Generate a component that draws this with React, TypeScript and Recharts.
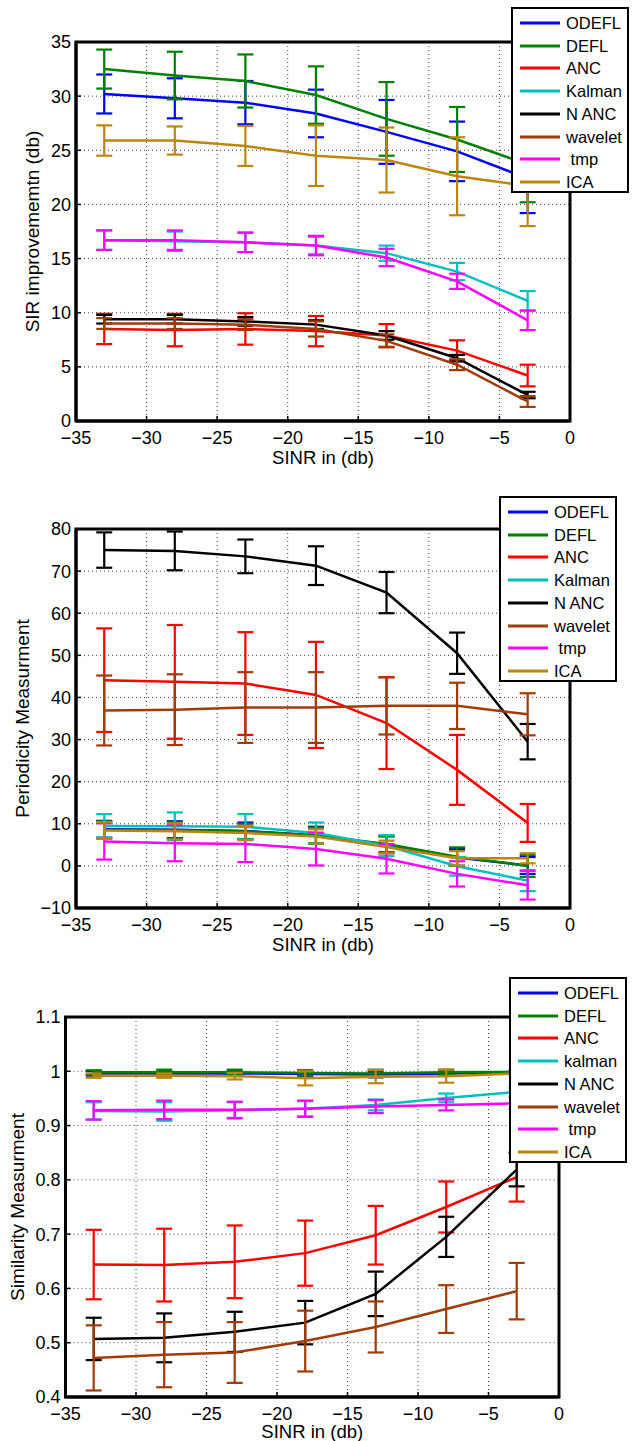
import React from 'react';
import { LineChart, Line, XAxis, YAxis, CartesianGrid, ErrorBar, ReferenceArea } from 'recharts';

const FONT = '"Liberation Sans", Arial, Helvetica, sans-serif';

// SINR values (x) and tick labels
const sinr = [-33, -28, -23, -18, -13, -8, -3];
const xTicks = [-35, -30, -25, -20, -15, -10, -5, 0];

const seriesKeys = ['odefl', 'defl', 'anc', 'kalman', 'nanc', 'wavelet', 'tmp', 'ica'];
const seriesColors = ['#0000FF', '#008000', '#FF0000', '#00BFBF', '#000000', '#A03C0A', '#FF00FF', '#BA8610'];
const legendNames1 = ['ODEFL', 'DEFL', 'ANC', 'Kalman', 'N ANC', 'wavelet', ' tmp', 'ICA'];
const legendNames3 = ['ODEFL', 'DEFL', 'ANC', 'kalman', 'N ANC', 'wavelet', ' tmp', 'ICA'];

// Panel 1: SIR improvement
const sirTicks = [0, 5, 10, 15, 20, 25, 30, 35];
const sirOdefl = [30.2, 29.8, 29.4, 28.4, 26.7, 24.9, 22.4];
const sirOdeflErr = [1.8, 1.85, 2.0, 2.2, 2.95, 2.75, 3.2];
const sirDefl = [32.5, 31.9, 31.4, 30.1, 27.9, 26.0, 23.7];
const sirDeflErr = [1.8, 2.2, 2.45, 2.65, 3.4, 3.0, 3.5];
const sirAnc = [8.5, 8.4, 8.5, 8.3, 7.9, 6.5, 4.2];
const sirAncErr = [1.4, 1.5, 1.45, 1.4, 1.05, 0.95, 1.0];
const sirKalman = [16.7, 16.6, 16.5, 16.2, 15.5, 13.8, 11.1];
const sirKalmanErr = [0.9, 0.9, 0.9, 0.8, 0.7, 0.8, 0.9];
const sirNanc = [9.4, 9.4, 9.2, 8.9, 7.9, 5.8, 2.4];
const sirNancErr = [0.4, 0.4, 0.4, 0.4, 0.4, 0.3, 0.3];
const sirWavelet = [9.0, 9.0, 8.9, 8.5, 7.4, 5.2, 1.8];
const sirWaveletErr = [0.5, 0.5, 0.5, 0.7, 0.6, 0.5, 0.5];
const sirTmp = [16.7, 16.7, 16.5, 16.2, 15.1, 12.9, 9.3];
const sirTmpErr = [0.9, 0.9, 0.9, 0.9, 0.8, 0.7, 0.9];
const sirIca = [25.9, 25.9, 25.4, 24.5, 24.1, 22.6, 21.7];
const sirIcaErr = [1.4, 1.3, 1.85, 2.8, 3.0, 3.6, 3.7];

// Panel 2: Periodicity
const perTicks = [-10, 0, 10, 20, 30, 40, 50, 60, 70, 80];
const perOdefl = [8.7, 8.6, 8.3, 7.3, 5.0, 2.0, 0.1];
const perOdeflErr = [2.0, 2.0, 2.0, 2.0, 2.0, 2.0, 2.0];
const perDefl = [8.6, 8.5, 8.2, 7.2, 5.2, 2.2, 0.0];
const perDeflErr = [2.0, 2.0, 1.8, 1.9, 1.9, 2.2, 2.6];
const perAnc = [44.1, 43.7, 43.3, 40.6, 33.9, 22.8, 10.2];
const perAncErr = [12.3, 13.5, 12.2, 12.6, 10.9, 8.3, 4.5];
const perKalman = [9.5, 9.4, 9.3, 7.8, 4.8, -0.1, -3.5];
const perKalmanErr = [2.8, 3.3, 3.0, 2.5, 2.5, 2.2, 2.5];
const perNanc = [75.0, 74.8, 73.5, 71.3, 64.9, 50.5, 29.5];
const perNancErr = [4.2, 4.6, 4.0, 4.6, 4.9, 4.9, 4.2];
const perWavelet = [36.9, 37.1, 37.6, 37.6, 38.0, 38.0, 36.0];
const perWaveletErr = [8.3, 8.4, 8.4, 8.4, 6.8, 5.5, 5.0];
const perTmp = [5.8, 5.4, 5.2, 4.0, 1.7, -1.9, -4.6];
const perTmpErr = [4.3, 4.3, 4.3, 3.9, 3.5, 3.0, 3.4];
const perIca = [8.4, 8.2, 7.8, 7.0, 4.5, 1.8, 1.8];
const perIcaErr = [2.0, 1.9, 1.7, 1.7, 1.5, 1.7, 1.2];

// Panel 3: Similarity
const simTicks = [0.4, 0.5, 0.6, 0.7, 0.8, 0.9, 1, 1.1];
const simOdefl = [0.996, 0.996, 0.996, 0.995, 0.994, 0.996, 0.998];
const simOdeflErr = [0.004, 0.004, 0.004, 0.004, 0.005, 0.004, 0.003];
const simDefl = [0.998, 0.998, 0.998, 0.997, 0.996, 0.998, 0.999];
const simDeflErr = [0.004, 0.005, 0.005, 0.005, 0.007, 0.005, 0.004];
const simAnc = [0.644, 0.643, 0.649, 0.665, 0.698, 0.750, 0.805];
const simAncErr = [0.064, 0.067, 0.067, 0.06, 0.054, 0.047, 0.045];
const simKalman = [0.927, 0.926, 0.928, 0.931, 0.938, 0.951, 0.962];
const simKalmanErr = [0.016, 0.017, 0.015, 0.014, 0.01, 0.008, 0.008];
const simNanc = [0.507, 0.509, 0.520, 0.537, 0.590, 0.695, 0.819];
const simNancErr = [0.039, 0.045, 0.037, 0.04, 0.041, 0.037, 0.031];
const simWavelet = [0.472, 0.478, 0.482, 0.503, 0.529, 0.562, 0.595];
const simWaveletErr = [0.06, 0.06, 0.056, 0.056, 0.047, 0.044, 0.052];
const simTmp = [0.928, 0.929, 0.929, 0.931, 0.935, 0.938, 0.941];
const simTmpErr = [0.017, 0.017, 0.015, 0.015, 0.012, 0.01, 0.01];
const simIca = [0.992, 0.992, 0.991, 0.987, 0.990, 0.991, 0.996];
const simIcaErr = [0.004, 0.004, 0.006, 0.013, 0.012, 0.012, 0.004];

function buildData(values: number[][], errors: number[][]) {
  return sinr.map((x, i) => {
    const row: Record<string, number> = { x };
    seriesKeys.forEach((k, s) => {
      row[k] = values[s][i];
      row[k + 'Err'] = errors[s][i];
    });
    return row;
  });
}

const data1 = buildData(
  [sirOdefl, sirDefl, sirAnc, sirKalman, sirNanc, sirWavelet, sirTmp, sirIca],
  [sirOdeflErr, sirDeflErr, sirAncErr, sirKalmanErr, sirNancErr, sirWaveletErr, sirTmpErr, sirIcaErr]
);
const data2 = buildData(
  [perOdefl, perDefl, perAnc, perKalman, perNanc, perWavelet, perTmp, perIca],
  [perOdeflErr, perDeflErr, perAncErr, perKalmanErr, perNancErr, perWaveletErr, perTmpErr, perIcaErr]
);
const data3 = buildData(
  [simOdefl, simDefl, simAnc, simKalman, simNanc, simWavelet, simTmp, simIca],
  [simOdeflErr, simDeflErr, simAncErr, simKalmanErr, simNancErr, simWaveletErr, simTmpErr, simIcaErr]
);

const fmtTick = (v: number) => (v < 0 ? '\u2212' + String(Math.abs(v)) : String(v));

function LegendBox({ names, left, top }: { names: string[]; left: number; top: number }) {
  return (
    <div
      style={{
        position: 'absolute',
        left,
        top,
        width: 118,
        height: 186,
        boxSizing: 'border-box',
        border: '2.5px solid #000',
        background: '#fff',
        fontFamily: FONT,
        fontSize: 16.5,
        color: '#000',
        zIndex: 5,
      }}
    >
      {names.map((n, i) => (
        <div
          key={i}
          style={{
            position: 'absolute',
            left: 7,
            top: 3 + i * 22.7,
            height: 22,
            display: 'flex',
            alignItems: 'center',
            whiteSpace: 'pre',
          }}
        >
          <svg width={40} height={4} style={{ display: 'block' }}>
            <line x1={0} y1={2} x2={40} y2={2} stroke={seriesColors[i]} strokeWidth={3} />
          </svg>
          <span style={{ marginLeft: 6, lineHeight: '22px' }}>{n}</span>
        </div>
      ))}
    </div>
  );
}

type PanelProps = {
  data: Record<string, number>[];
  top: number;
  height: number;
  margin: { top: number; right: number; bottom: number; left: number };
  yWidth: number;
  xHeight: number;
  yDomain: [number, number];
  yTicks: number[];
  yLabel: string;
  yLabelX: number;
  xLabelDy: number;
  legendNames: string[];
  legendLeft: number;
  legendTop: number;
};

function Panel(p: PanelProps) {
  const axisLine = { stroke: '#000', strokeWidth: 3 };
  const tickLine = { stroke: '#000', strokeWidth: 1.5 };
  const tickStyle = { fill: '#000', fontSize: 18, fontFamily: FONT };
  return (
    <div style={{ position: 'absolute', left: 0, top: p.top, width: 633, height: p.height }}>
      <LineChart width={633} height={p.height} data={p.data} margin={p.margin}>
        <CartesianGrid stroke="#444" strokeDasharray="1 3" strokeWidth={1} />
        <XAxis
          dataKey="x"
          type="number"
          domain={[-35, 0]}
          ticks={xTicks}
          allowDataOverflow
          height={p.xHeight}
          axisLine={axisLine}
          tickLine={tickLine}
          tickSize={-5}
          tickMargin={15}
          tick={tickStyle}
          tickFormatter={fmtTick}
          interval={0}
          label={{
            content: (lp: any) => {
              const vb = lp.viewBox || { x: 0, y: 0, width: 0, height: 0 };
              return (
                <text
                  x={vb.x + vb.width / 2}
                  y={vb.y + p.xLabelDy}
                  textAnchor="middle"
                  dominantBaseline="central"
                  fontSize={18.5}
                  fontFamily={FONT}
                  fill="#000"
                >
                  SINR in (db)
                </text>
              );
            },
          }}
        />
        <YAxis
          type="number"
          domain={p.yDomain}
          ticks={p.yTicks}
          allowDataOverflow
          width={p.yWidth}
          axisLine={axisLine}
          tickLine={tickLine}
          tickSize={-5}
          tickMargin={10}
          tick={tickStyle}
          tickFormatter={fmtTick}
          interval={0}
          label={{
            content: (lp: any) => {
              const vb = lp.viewBox || { x: 0, y: 0, width: 0, height: 0 };
              const cx = vb.x + p.yLabelX;
              const cy = vb.y + vb.height / 2;
              return (
                <text
                  x={cx}
                  y={cy}
                  transform={`rotate(-90 ${cx} ${cy})`}
                  textAnchor="middle"
                  dominantBaseline="central"
                  fontSize={19}
                  fontFamily={FONT}
                  fill="#000"
                >
                  {p.yLabel}
                </text>
              );
            },
          }}
        />
        {seriesKeys.map((k, i) => (
          <Line
            key={k}
            type="linear"
            dataKey={k}
            stroke={seriesColors[i]}
            strokeWidth={2.5}
            dot={false}
            activeDot={false}
            isAnimationActive={false}
          >
            <ErrorBar
              dataKey={k + 'Err'}
              direction="y"
              width={8}
              strokeWidth={2.2}
              stroke={seriesColors[i]}
              isAnimationActive={false}
            />
          </Line>
        ))}
        <ReferenceArea
          x1={-35}
          x2={0}
          y1={p.yDomain[0]}
          y2={p.yDomain[1]}
          fill="none"
          fillOpacity={0}
          stroke="#000"
          strokeWidth={3}
          ifOverflow="visible"
        />
      </LineChart>
      <LegendBox names={p.legendNames} left={p.legendLeft} top={p.legendTop} />
    </div>
  );
}

export default function App() {
  return (
    <div style={{ position: 'absolute', left: 0, top: 0, width: 633, height: 1441, background: '#fff' }}>
      <Panel
        data={data1}
        top={0}
        height={485}
        margin={{ top: 42, right: 63, bottom: 14, left: 0 }}
        yWidth={76}
        xHeight={50}
        yDomain={[0, 35]}
        yTicks={sirTicks}
        yLabel="SIR improvememtn (db)"
        yLabelX={32}
        xLabelDy={36}
        legendNames={legendNames1}
        legendLeft={511}
        legendTop={7}
      />
      <Panel
        data={data2}
        top={485}
        height={485}
        margin={{ top: 44, right: 63, bottom: 12, left: 0 }}
        yWidth={76}
        xHeight={50}
        yDomain={[-10, 80]}
        yTicks={perTicks}
        yLabel="Periodicity Measurment"
        yLabelX={22}
        xLabelDy={36}
        legendNames={legendNames1}
        legendLeft={499}
        legendTop={11}
      />
      <Panel
        data={data3}
        top={970}
        height={471}
        margin={{ top: 47, right: 74, bottom: 0, left: 0 }}
        yWidth={65.5}
        xHeight={44}
        yDomain={[0.4, 1.1]}
        yTicks={simTicks}
        yLabel="Similarity Measurment"
        yLabelX={17}
        xLabelDy={34}
        legendNames={legendNames3}
        legendLeft={509}
        legendTop={7}
      />
    </div>
  );
}
